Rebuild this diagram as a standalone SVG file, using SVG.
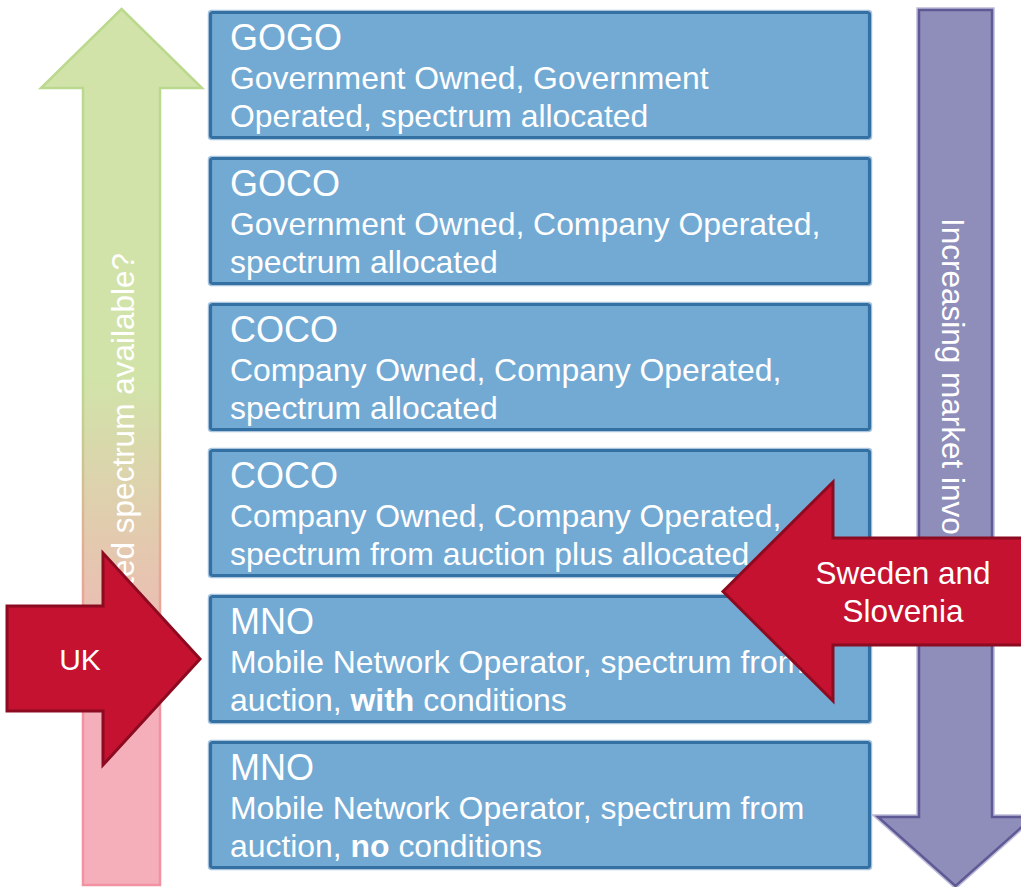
<svg xmlns="http://www.w3.org/2000/svg" width="1021" height="887" viewBox="0 0 1021 887">
  <defs>
    <linearGradient id="availFill" gradientUnits="userSpaceOnUse" x1="0" y1="380" x2="0" y2="720">
      <stop offset="0" stop-color="#D1E3A9"/>
      <stop offset="0.5" stop-color="#E4C8AF"/>
      <stop offset="1" stop-color="#F5AFBA"/>
    </linearGradient>
    <linearGradient id="availStroke" gradientUnits="userSpaceOnUse" x1="0" y1="380" x2="0" y2="720">
      <stop offset="0" stop-color="#BBD98E"/>
      <stop offset="0.5" stop-color="#E3AE94"/>
      <stop offset="1" stop-color="#F291A1"/>
    </linearGradient>
    <style>
      text { font-family: "Liberation Sans", Arial, sans-serif; fill: #FFFFFF; }
      .title { font-size: 36px; }
      .body { font-size: 31.9px; }
      .label { font-size: 31.5px; }
      .b { font-weight: bold; }
      .halo { fill: none; stroke: #A9C5DF; stroke-width: 1.5; }
      .box { fill: #73AAD4; stroke: #3570A3; stroke-width: 3.2; }
      .red { fill: #C41230; stroke: #8C0B20; stroke-width: 3; stroke-linejoin: miter; }
      .purple { fill: #8F8DBA; stroke: #5F5A96; stroke-width: 2.5; }
      .purpleHalo { fill: none; stroke: #BDBBD8; stroke-width: 5.5; }
    </style>
  </defs>

  <!-- background arrows -->
  <g id="spectrum-arrow">
    <polygon points="121.5,9 202,88 160,88 160,885 83,885 83,88 41,88" fill="url(#availFill)" stroke="url(#availStroke)" stroke-width="2.5"/>
    <text class="label" transform="translate(134,253) rotate(-90)" text-anchor="end">Dedicated spectrum available?</text>
  </g>

  <g id="market-arrow">
    <polygon class="purpleHalo" points="919,10 992,10 992,817 1033,817 955.5,886 878,817 919,817"/>
    <polygon class="purple" points="919,10 992,10 992,817 1033,817 955.5,886 878,817 919,817"/>
    <text class="label" transform="translate(942,218) rotate(90)">Increasing market involvement</text>
  </g>

  <!-- operating models -->
  <g id="gogo">
    <rect class="halo" x="208.5" y="10.5" width="663" height="129" rx="3"/>
    <rect class="box" x="210.5" y="12.5" width="659" height="125" rx="2"/>
    <text class="title" x="230" y="50">GOGO</text>
    <text class="body" x="230" y="89">Government Owned, Government</text>
    <text class="body" x="230" y="127">Operated, spectrum allocated</text>
  </g>

  <g id="goco">
    <rect class="halo" x="208.5" y="156.5" width="663" height="129" rx="3"/>
    <rect class="box" x="210.5" y="158.5" width="659" height="125" rx="2"/>
    <text class="title" x="230" y="196">GOCO</text>
    <text class="body" x="230" y="235">Government Owned, Company Operated,</text>
    <text class="body" x="230" y="273">spectrum allocated</text>
  </g>

  <g id="coco-allocated">
    <rect class="halo" x="208.5" y="302.5" width="663" height="129" rx="3"/>
    <rect class="box" x="210.5" y="304.5" width="659" height="125" rx="2"/>
    <text class="title" x="230" y="342">COCO</text>
    <text class="body" x="230" y="381">Company Owned, Company Operated,</text>
    <text class="body" x="230" y="419">spectrum allocated</text>
  </g>

  <g id="coco-auction">
    <rect class="halo" x="208.5" y="448.5" width="663" height="129" rx="3"/>
    <rect class="box" x="210.5" y="450.5" width="659" height="125" rx="2"/>
    <text class="title" x="230" y="488">COCO</text>
    <text class="body" x="230" y="527">Company Owned, Company Operated,</text>
    <text class="body" x="230" y="565">spectrum from auction plus allocated</text>
  </g>

  <g id="mno-conditions">
    <rect class="halo" x="208.5" y="594.5" width="663" height="129" rx="3"/>
    <rect class="box" x="210.5" y="596.5" width="659" height="125" rx="2"/>
    <text class="title" x="230" y="634">MNO</text>
    <text class="body" x="230" y="673">Mobile Network Operator, spectrum from</text>
    <text class="body" x="230" y="711">auction, <tspan class="b">with</tspan> conditions</text>
  </g>

  <g id="mno-open">
    <rect class="halo" x="208.5" y="740.5" width="663" height="129" rx="3"/>
    <rect class="box" x="210.5" y="742.5" width="659" height="125" rx="2"/>
    <text class="title" x="230" y="780">MNO</text>
    <text class="body" x="230" y="819">Mobile Network Operator, spectrum from</text>
    <text class="body" x="230" y="857">auction, <tspan class="b">no</tspan> conditions</text>
  </g>

  <!-- country markers -->
  <g id="uk">
    <polygon class="red" points="7,606 103,606 103,553 200,659 103,765 103,711 7,711"/>
    <text class="label" style="font-size:30px" x="80" y="670" text-anchor="middle">UK</text>
  </g>

  <g id="sweden-slovenia">
    <polygon class="red" points="1030,538 833,538 833,482 723,591.5 833,701 833,645 1030,645"/>
    <text class="label" x="903" y="584" text-anchor="middle">Sweden and</text>
    <text class="label" x="903" y="622" text-anchor="middle">Slovenia</text>
  </g>
</svg>
